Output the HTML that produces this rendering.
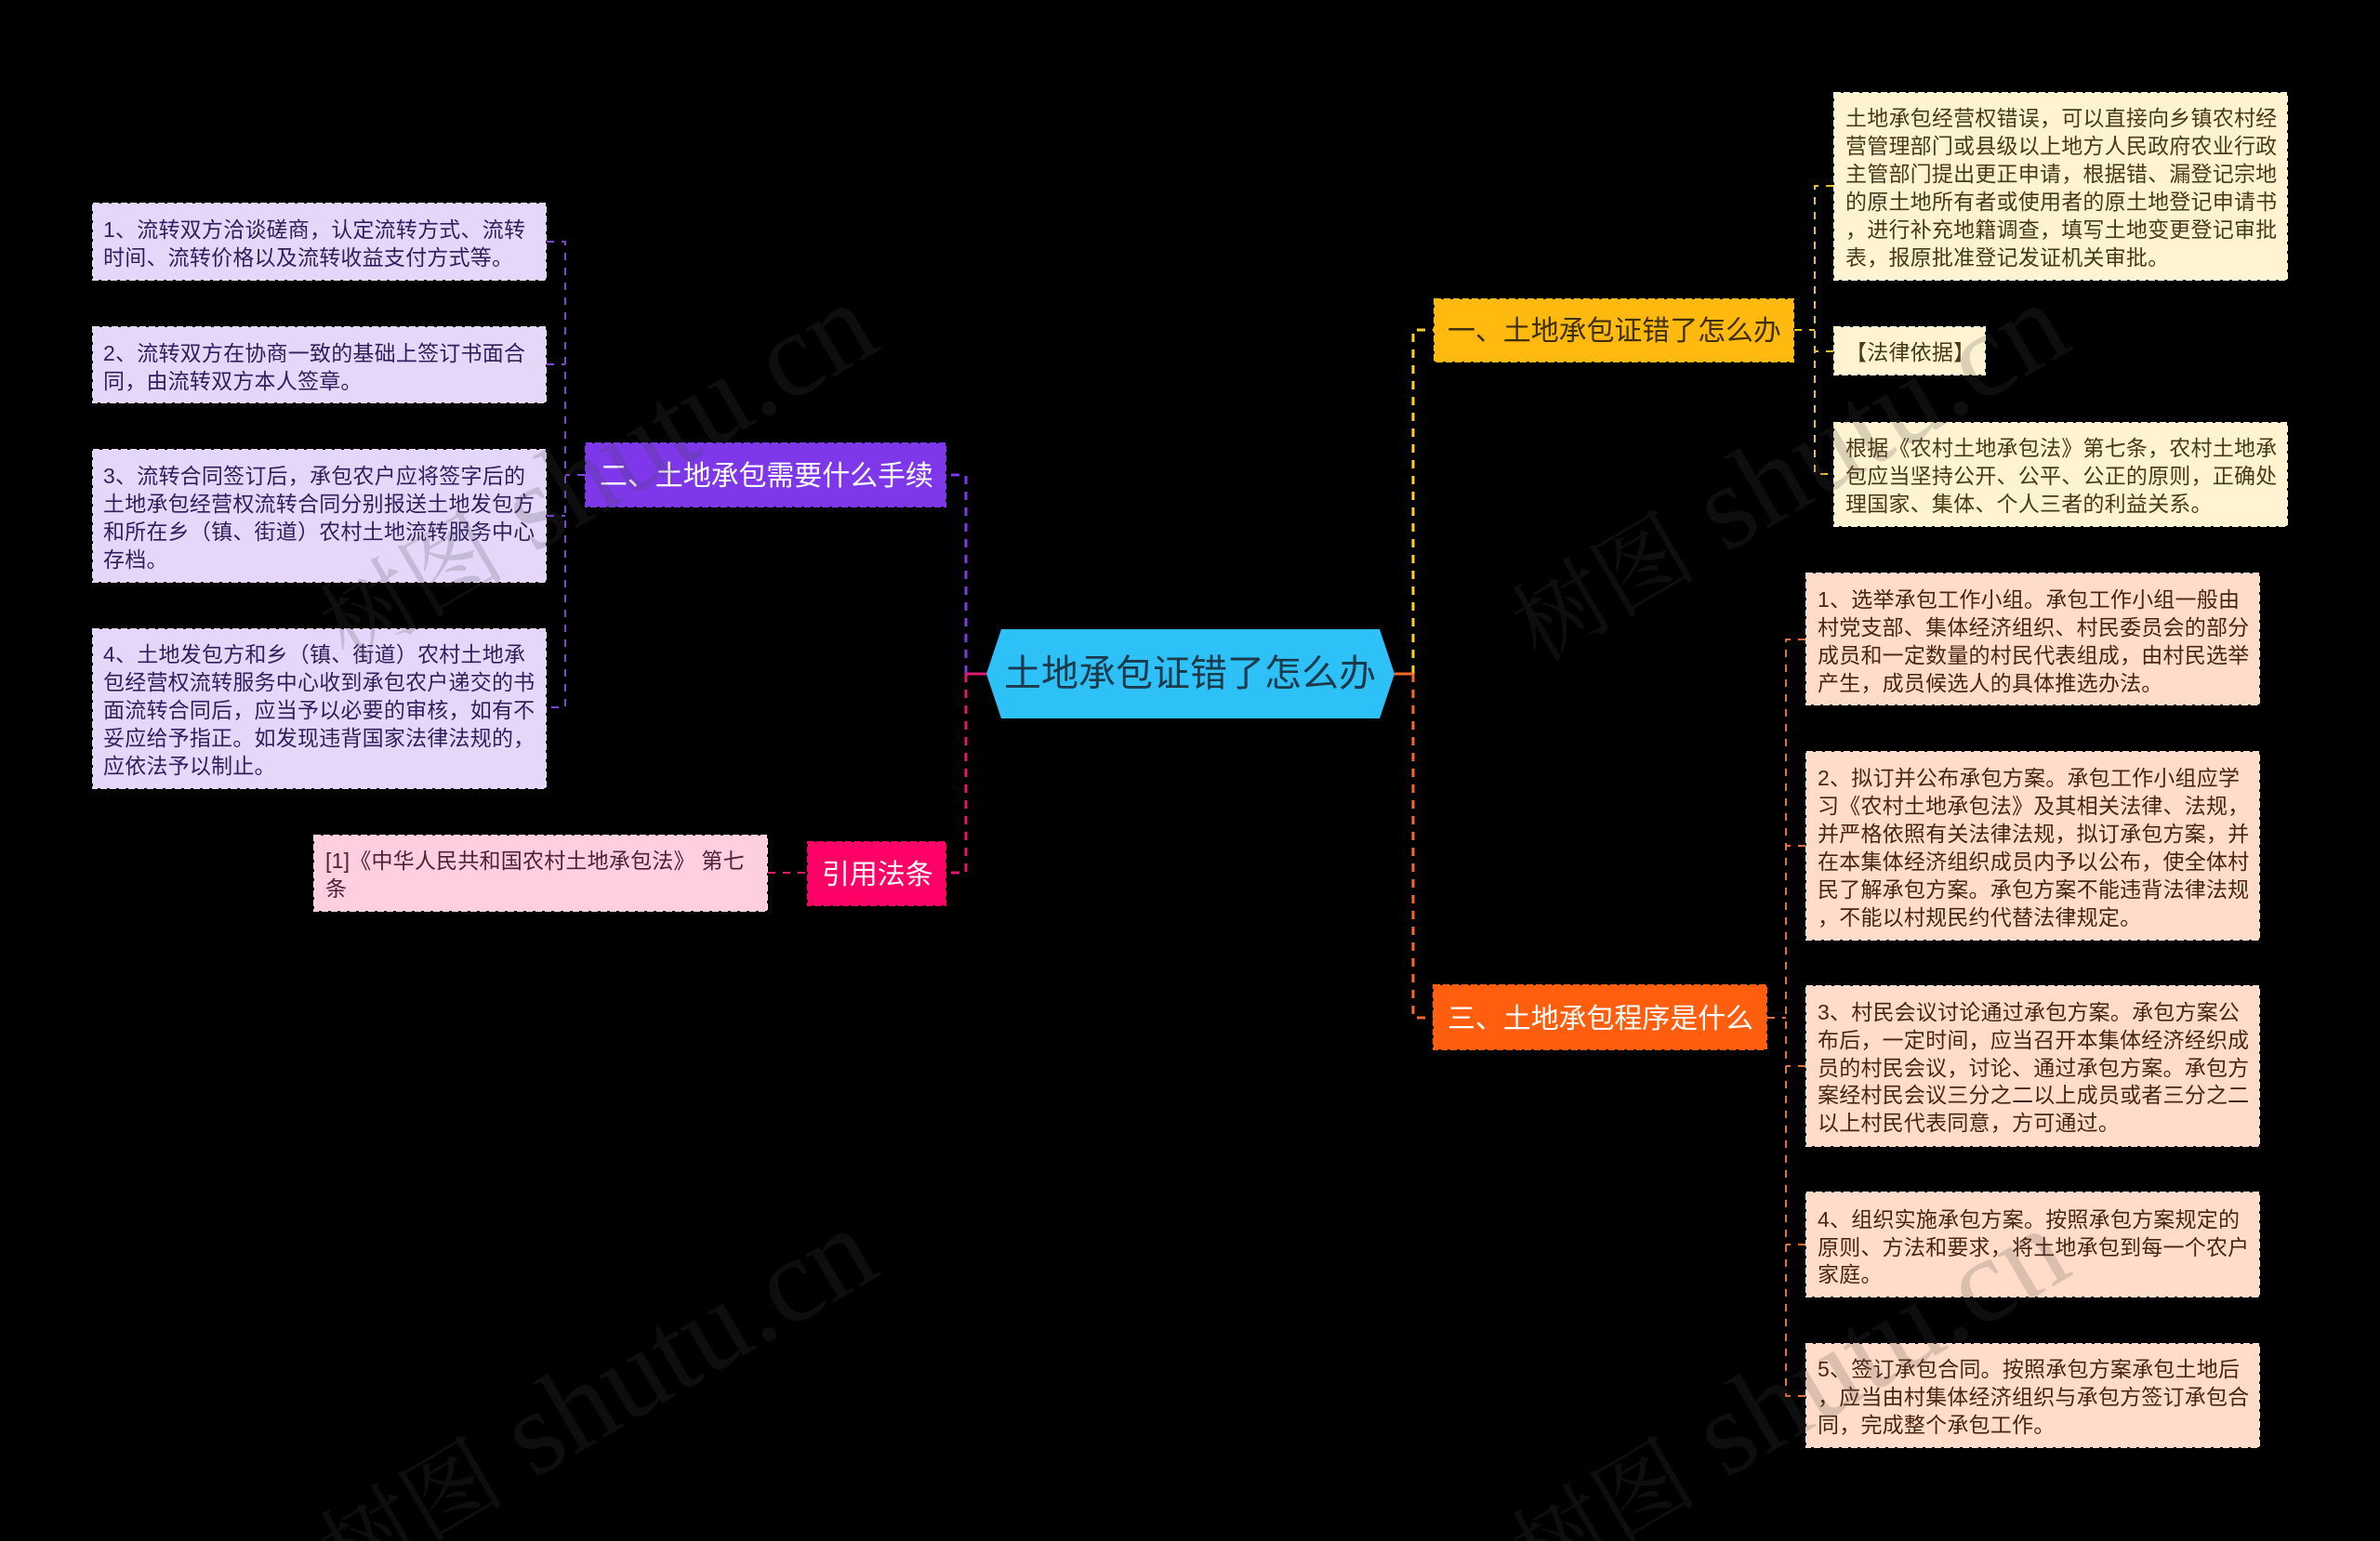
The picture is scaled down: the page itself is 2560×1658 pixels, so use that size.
<!DOCTYPE html>
<html lang="zh-CN"><head><meta charset="utf-8"><title>土地承包证错了怎么办</title>
<style>
html,body{margin:0;padding:0;background:#000;width:2560px;height:1658px;overflow:hidden}
svg{display:block}
text{font-family:"Liberation Sans","Noto Sans CJK SC",sans-serif;white-space:pre}
.s{font-size:23px;letter-spacing:.22px}
.m{font-size:30px;letter-spacing:-.1px}
.wm text{font-family:"Liberation Serif","Noto Serif CJK SC",serif;font-size:130px;fill:rgba(70,70,70,.2)}
.wm tspan{font-size:100px}
</style></head><body>
<svg xmlns="http://www.w3.org/2000/svg" width="2560" height="1658" viewBox="0 0 2560 1658">
<rect width="2560" height="1658" fill="#000"/>
<!-- primary connectors -->
<g fill="none" stroke-width="3">
<path d="M1039 725V511H1018" stroke="#7e38ea" stroke-dasharray="9 8"/>
<path d="M1039 725V939H1018" stroke="#e0186f" stroke-dasharray="9 8"/>
<path d="M1520 725V355H1542" stroke="#ffd02c" stroke-dasharray="9 8"/>
<path d="M1520 725V1095H1542" stroke="#f8672a" stroke-dasharray="9 8"/>
<path d="M1039 725H1061" stroke="#e0186f"/>
<path d="M1500 725H1520" stroke="#f8672a"/>
</g>
<!-- secondary connectors -->
<g fill="none" stroke-width="2" stroke-dasharray="8 8">
<path d="M588 260H608V761H588M588 392H608M588 555H608M629 511H608" stroke="#7e45d8"/>
<path d="M826 939H868" stroke="#d81b70"/>
<path d="M1972 200H1952V510H1972M1930 355H1952M1972 378H1952" stroke="#f0c030"/>
<path d="M1942 688H1921V1502H1942M1901 1095H1921M1942 910H1921M1942 1147H1921M1942 1339H1921" stroke="#e8703a"/>
</g>
<!-- root -->
<polygon points="1077,677 1484,677 1500,725 1484,773 1077,773 1061,725" fill="#2ec1f7"/>
<text x="1080" y="738" font-size="40" fill="#1b3a4b">土地承包证错了怎么办</text>
<!-- branch nodes -->
<g stroke-width="2" stroke-dasharray="7 3">
<rect x="1543" y="322" width="386" height="67" fill="#ffb90f" stroke="#ffb90f"/>
<rect x="630" y="477" width="387" height="68" fill="#7e38ea" stroke="#7e38ea"/>
<rect x="869" y="906" width="148" height="68" fill="#ff0066" stroke="#ff0066"/>
<rect x="1542" y="1060" width="358" height="69" fill="#ff5e0e" stroke="#ff5e0e"/>
<rect x="1973" y="100" width="487" height="201" fill="#fff3d1" stroke="#fff3d1"/>
<rect x="1973" y="352" width="162" height="51" fill="#fff3d1" stroke="#fff3d1"/>
<rect x="1973" y="455" width="487" height="111" fill="#fff3d1" stroke="#fff3d1"/>
<rect x="100" y="219" width="487" height="82" fill="#e5d7fa" stroke="#e5d7fa"/>
<rect x="100" y="352" width="487" height="81" fill="#e5d7fa" stroke="#e5d7fa"/>
<rect x="100" y="484" width="487" height="142" fill="#e5d7fa" stroke="#e5d7fa"/>
<rect x="100" y="677" width="487" height="171" fill="#e5d7fa" stroke="#e5d7fa"/>
<rect x="338" y="899" width="487" height="81" fill="#ffcfe0" stroke="#ffcfe0"/>
<rect x="1943" y="617" width="487" height="141" fill="#ffdcc9" stroke="#ffdcc9"/>
<rect x="1943" y="809" width="487" height="202" fill="#ffdcc9" stroke="#ffdcc9"/>
<rect x="1943" y="1061" width="487" height="172" fill="#ffdcc9" stroke="#ffdcc9"/>
<rect x="1943" y="1283" width="487" height="112" fill="#ffdcc9" stroke="#ffdcc9"/>
<rect x="1943" y="1446" width="487" height="111" fill="#ffdcc9" stroke="#ffdcc9"/>
</g>
<!-- branch labels -->
<text class="m" x="1557" y="366" fill="#3f3008">一、土地承包证错了怎么办</text>
<text class="m" x="645" y="522" fill="#fff">二、土地承包需要什么手续</text>
<text class="m" x="884" y="951" fill="#fff">引用法条</text>
<text class="m" x="1557" y="1106" fill="#fff">三、土地承包程序是什么</text>
<!-- yellow leaves -->
<g class="s" fill="#4a3a14">
<text x="1985" y="135">土地承包经营权错误，可以直接向乡镇农村经</text>
<text x="1985" y="165">营管理部门或县级以上地方人民政府农业行政</text>
<text x="1985" y="195">主管部门提出更正申请，根据错、漏登记宗地</text>
<text x="1985" y="225">的原土地所有者或使用者的原土地登记申请书</text>
<text x="1985" y="255">，进行补充地籍调查，填写土地变更登记审批</text>
<text x="1985" y="285">表，报原批准登记发证机关审批。</text>
<text x="1985" y="387">【法律依据】</text>
<text x="1985" y="490">根据《农村土地承包法》第七条，农村土地承</text>
<text x="1985" y="520">包应当坚持公开、公平、公正的原则，正确处</text>
<text x="1985" y="550">理国家、集体、个人三者的利益关系。</text>
</g>
<!-- purple leaves -->
<g class="s" fill="#2e1f5e">
<text x="111" y="255">1、流转双方洽谈磋商，认定流转方式、流转</text>
<text x="111" y="285">时间、流转价格以及流转收益支付方式等。</text>
<text x="111" y="388">2、流转双方在协商一致的基础上签订书面合</text>
<text x="111" y="418">同，由流转双方本人签章。</text>
<text x="111" y="520">3、流转合同签订后，承包农户应将签字后的</text>
<text x="111" y="550">土地承包经营权流转合同分别报送土地发包方</text>
<text x="111" y="580">和所在乡（镇、街道）农村土地流转服务中心</text>
<text x="111" y="610">存档。</text>
<text x="111" y="712">4、土地发包方和乡（镇、街道）农村土地承</text>
<text x="111" y="742">包经营权流转服务中心收到承包农户递交的书</text>
<text x="111" y="772">面流转合同后，应当予以必要的审核，如有不</text>
<text x="111" y="802">妥应给予指正。如发现违背国家法律法规的，</text>
<text x="111" y="832">应依法予以制止。</text>
</g>
<!-- pink leaf -->
<g class="s" fill="#4d2238">
<text x="350" y="934">[1]《中华人民共和国农村土地承包法》 第七</text>
<text x="350" y="964">条</text>
</g>
<!-- orange leaves -->
<g class="s" fill="#4a2412">
<text x="1955" y="653">1、选举承包工作小组。承包工作小组一般由</text>
<text x="1955" y="683">村党支部、集体经济组织、村民委员会的部分</text>
<text x="1955" y="713">成员和一定数量的村民代表组成，由村民选举</text>
<text x="1955" y="743">产生，成员候选人的具体推选办法。</text>
<text x="1955" y="845">2、拟订并公布承包方案。承包工作小组应学</text>
<text x="1955" y="875">习《农村土地承包法》及其相关法律、法规，</text>
<text x="1955" y="905">并严格依照有关法律法规，拟订承包方案，并</text>
<text x="1955" y="935">在本集体经济组织成员内予以公布，使全体村</text>
<text x="1955" y="965">民了解承包方案。承包方案不能违背法律法规</text>
<text x="1955" y="995">，不能以村规民约代替法律规定。</text>
<text x="1955" y="1097">3、村民会议讨论通过承包方案。承包方案公</text>
<text x="1955" y="1127">布后，一定时间，应当召开本集体经济经织成</text>
<text x="1955" y="1157">员的村民会议，讨论、通过承包方案。承包方</text>
<text x="1955" y="1186">案经村民会议三分之二以上成员或者三分之二</text>
<text x="1955" y="1216">以上村民代表同意，方可通过。</text>
<text x="1955" y="1320">4、组织实施承包方案。按照承包方案规定的</text>
<text x="1955" y="1350">原则、方法和要求，将土地承包到每一个农户</text>
<text x="1955" y="1379">家庭。</text>
<text x="1955" y="1481">5、签订承包合同。按照承包方案承包土地后</text>
<text x="1955" y="1511">，应当由村集体经济组织与承包方签订承包合</text>
<text x="1955" y="1541">同，完成整个承包工作。</text>
</g>
<!-- watermarks -->
<g class="wm" text-anchor="end">
<text transform="translate(950,374) rotate(-30.5)"><tspan>树图</tspan> shutu.cn</text>
<text transform="translate(950,1370) rotate(-30.5)"><tspan>树图</tspan> shutu.cn</text>
<text transform="translate(2232,374) rotate(-30.5)"><tspan>树图</tspan> shutu.cn</text>
<text transform="translate(2232,1370) rotate(-30.5)"><tspan>树图</tspan> shutu.cn</text>
</g>
</svg>
</body></html>
